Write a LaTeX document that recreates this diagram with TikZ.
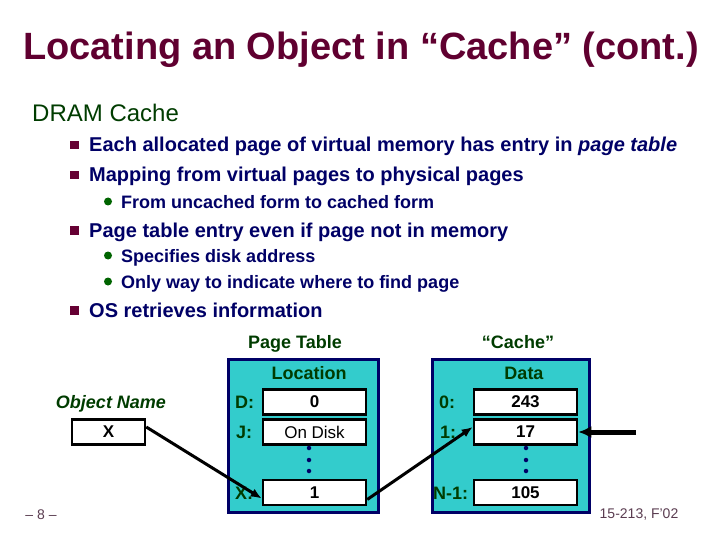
\documentclass[tikz,border=0pt]{standalone}
\usepackage{fontspec}
\setmainfont{Liberation Sans}
\usetikzlibrary{arrows.meta}

\definecolor{titlered}{RGB}{96,0,48}
\definecolor{darkgreen}{RGB}{0,60,0}
\definecolor{navytext}{RGB}{0,0,102}
\definecolor{tablecyan}{RGB}{51,204,204}
\definecolor{bulletred}{RGB}{102,0,51}
\definecolor{bulletgreen}{RGB}{0,100,0}
\definecolor{footgray}{RGB}{90,60,80}

\tikzset{
  titletext/.style={anchor=base, inner sep=0pt, text=titlered, font=\fontsize{38}{38}\selectfont\bfseries},
  headtext/.style={anchor=base west, inner sep=0pt, text=darkgreen, font=\fontsize{24}{24}\selectfont},
  itemtext/.style={anchor=base west, inner sep=0pt, text=navytext, font=\fontsize{20}{20}\selectfont\bfseries},
  subtext/.style={anchor=base west, inner sep=0pt, text=navytext, font=\fontsize{18}{18}\selectfont\bfseries},
  sqbullet/.style={fill=bulletred, minimum size=8.5pt, inner sep=0pt},
  rdbullet/.style={circle, fill=bulletgreen, minimum size=8pt, inner sep=0pt},
  label/.style={anchor=base, inner sep=0pt, text=darkgreen, font=\fontsize{18}{18}\selectfont\bfseries},
  rowlabel/.style={anchor=base west, inner sep=0pt, text=darkgreen, font=\fontsize{18}{18}\selectfont\bfseries},
  tablebox/.style={draw=navytext, line width=3pt, fill=tablecyan},
  cell/.style={draw=black, line width=2.5pt, fill=white, minimum width=103pt, minimum height=25pt, inner sep=0pt, font=\fontsize{17}{17}\selectfont\bfseries},
  dot/.style={circle, fill=navytext, inner sep=0pt, minimum size=4.5pt},
  link/.style={line width=3pt, -{Latex[length=11pt,width=9pt]}},
  footer/.style={anchor=base, inner sep=0pt, text=footgray, font=\fontsize{14}{14}\selectfont}
}

\begin{document}
\begin{tikzpicture}[x=1pt, y=-1pt]
  \useasboundingbox (0,0) rectangle (720,540);

  \node[titletext] (title) at (361,60) {Locating an Object in “Cache” (cont.)};

  \node[headtext] (dram) at (32,122) {DRAM Cache};

  \node[sqbullet] (b1) at (74.5,145) {};
  \node[itemtext] (t1) at (89,152) {Each allocated page of virtual memory has entry in \textit{page table}};
  \node[sqbullet] (b2) at (74.5,175) {};
  \node[itemtext] (t2) at (89,182) {Mapping from virtual pages to physical pages};
  \node[rdbullet] (s1) at (108,201.5) {};
  \node[subtext] (u1) at (121,208) {From uncached form to cached form};
  \node[sqbullet] (b3) at (74.5,230.5) {};
  \node[itemtext] (t3) at (89,237.5) {Page table entry even if page not in memory};
  \node[rdbullet] (s2) at (108,255.5) {};
  \node[subtext] (u2) at (121,262) {Specifies disk address};
  \node[rdbullet] (s3) at (108,281.5) {};
  \node[subtext] (u3) at (121,288) {Only way to indicate where to find page};
  \node[sqbullet] (b4) at (74.5,310.5) {};
  \node[itemtext] (t4) at (89,317.5) {OS retrieves information};

  % page table
  \node[label] (ptname) at (295,348) {Page Table};
  \node[tablebox, minimum width=150pt, minimum height=153pt] (ptable) at (303,435.5) {};
  \node[label] (loc) at (309,379) {Location};
  \node[cell] (pD) at (314.5,402) {0};
  \node[cell, font=\fontsize{17}{17}\selectfont] (pJ) at (314.5,432) {On Disk};
  \node[cell] (pX) at (314.5,492.5) {1};
  \node[rowlabel] at (235,408.5) {D:};
  \node[rowlabel] at (236,438.5) {J:};
  \node[rowlabel] at (235,499) {X:};
  \node[dot] at (309,448) {};
  \node[dot] at (309,460) {};
  \node[dot] at (309,471) {};

  % cache
  \node[label] (cname) at (518,348) {“Cache”};
  \node[tablebox, minimum width=157pt, minimum height=153pt] (cache) at (510.5,435.5) {};
  \node[label] (data) at (524,379) {Data};
  \node[cell] (c0) at (525.5,402) {243};
  \node[cell] (c1) at (525.5,432) {17};
  \node[cell] (cN) at (525.5,492.5) {105};
  \node[rowlabel] at (439,408.5) {0:};
  \node[rowlabel] at (440,438.5) {1:};
  \node[rowlabel] at (433,499) {N-1:};
  \node[dot] at (526,448) {};
  \node[dot] at (526,460) {};
  \node[dot] at (526,471) {};

  % object name
  \node[label, font=\fontsize{18}{18}\selectfont\bfseries\itshape] (objname) at (111,408) {Object Name};
  \node[cell, minimum width=73pt] (obj) at (108.5,432) {X};

  \coordinate (cpu) at (636,432);
  \draw[link] ([yshift=5pt]obj.east) -- ([yshift=-6pt]pX.west);
  \draw[link] ([yshift=-7pt]pX.east) -- ([yshift=5pt]c1.west);
  \draw[line width=5pt, -{Latex[length=13pt,width=12pt]}] (cpu) -- (c1.east);

  \node[footer] (page) at (41,519) {– 8 –};
  \node[footer] (course) at (639,518) {15-213, F’02};
\end{tikzpicture}
\end{document}
